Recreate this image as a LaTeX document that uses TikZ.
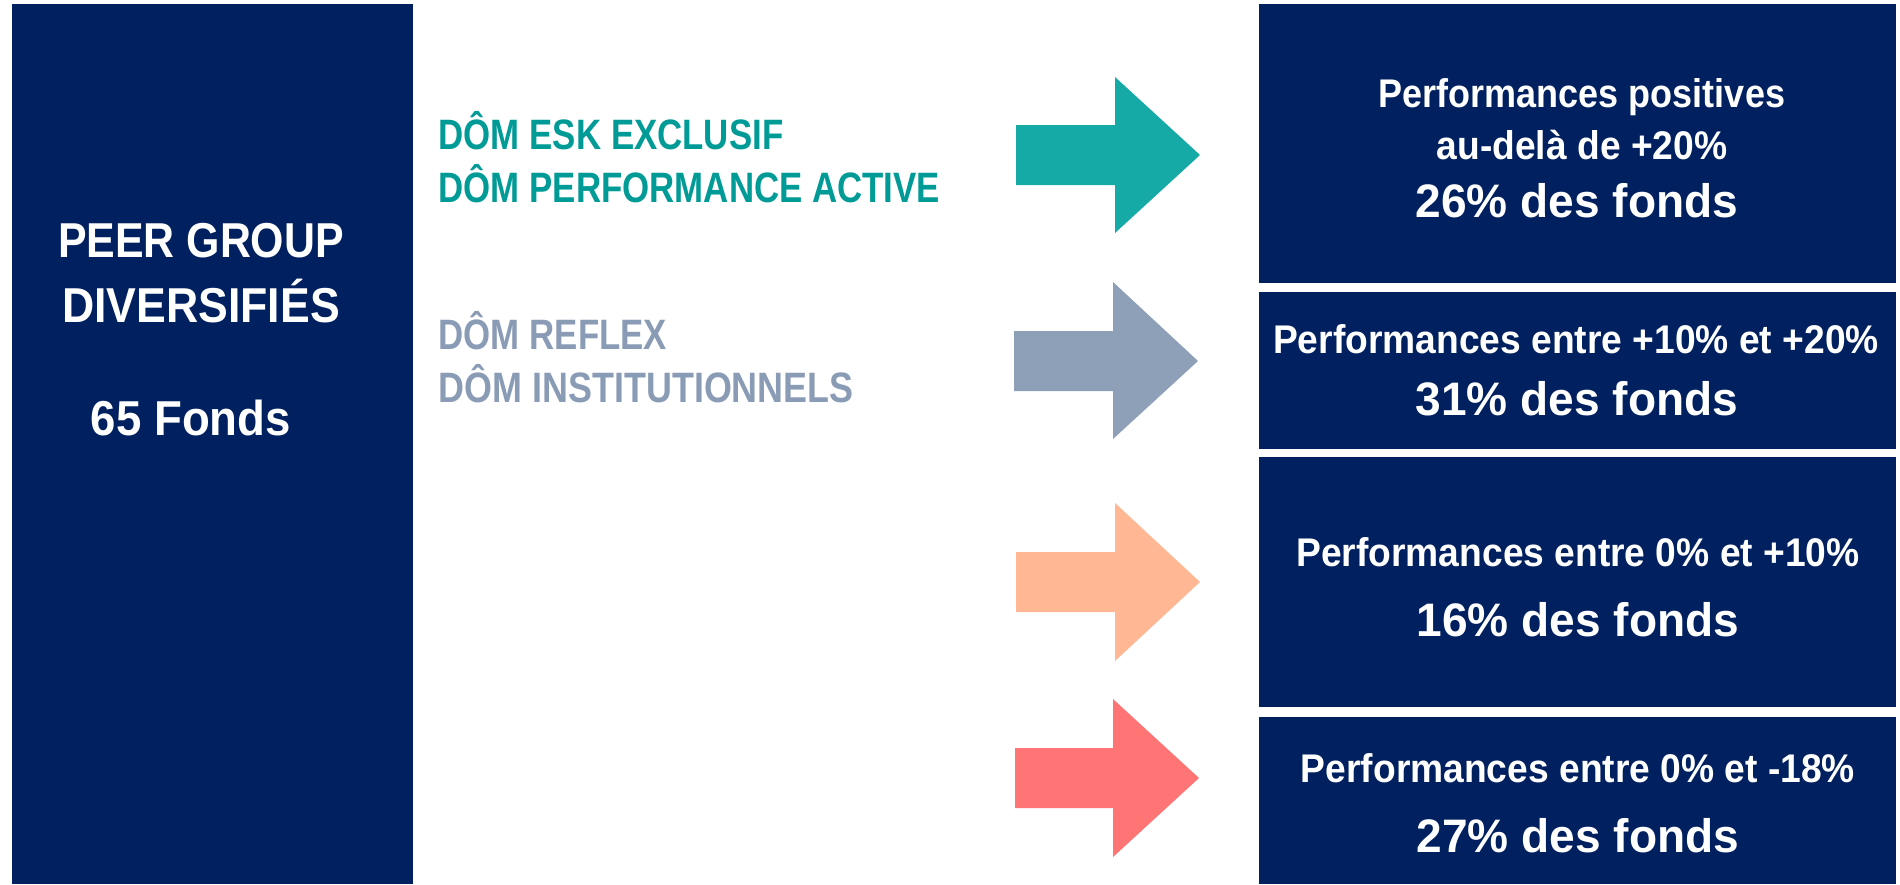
\documentclass[tikz,border=0pt]{standalone}
\usepackage{fontspec}
\newfontfamily\fteal[FakeStretch=0.82]{Liberation Sans Bold}
\newfontfamily\ftealw[FakeStretch=0.845]{Liberation Sans Bold}
\newfontfamily\fleft[FakeStretch=0.875]{Liberation Sans Bold}
\newfontfamily\fleftw[FakeStretch=0.91]{Liberation Sans Bold}
\newfontfamily\fnum[FakeStretch=0.93]{Liberation Sans Bold}
\newfontfamily\fsmall[FakeStretch=0.90]{Liberation Sans Bold}
\newfontfamily\fsmallw[FakeStretch=0.93]{Liberation Sans Bold}
\newfontfamily\fbig[FakeStretch=0.98]{Liberation Sans Bold}
\definecolor{navy}{HTML}{012060}
\definecolor{tealA}{HTML}{16AAA6}
\definecolor{tealT}{HTML}{009B96}
\definecolor{grayA}{HTML}{8EA0B8}
\definecolor{grayT}{HTML}{8A9CB5}
\definecolor{peach}{HTML}{FFB893}
\definecolor{redA}{HTML}{FF7474}
\begin{document}
\begin{tikzpicture}[x=1pt,y=-1pt,
  navybox/.style={fill=navy,draw=none,inner sep=0,anchor=north west},
  lefttxt/.style={text=white,inner sep=0,anchor=base},
  sidetxt/.style={inner sep=0,anchor=base west},
  smalltxt/.style={text=white,inner sep=0,anchor=base,font=\fsmallw\fontsize{40}{46}\selectfont},
  bigtxt/.style={text=white,inner sep=0,anchor=base,font=\fbig\fontsize{47}{54}\selectfont}]
\fill[white] (0,0) rectangle (1900,884);
\useasboundingbox (0,0) rectangle (1900,884);
% boxes
\node[navybox,minimum width=401pt,minimum height=880pt] (peer) at (12,4) {};
\node[navybox,minimum width=637pt,minimum height=279pt] (b1) at (1259,4) {};
\node[navybox,minimum width=637pt,minimum height=157pt] (b2) at (1259,292) {};
\node[navybox,minimum width=637pt,minimum height=250pt] (b3) at (1259,457) {};
\node[navybox,minimum width=637pt,minimum height=167pt] (b4) at (1259,717) {};
% left texts
\node[lefttxt,font=\fleft\fontsize{49}{55}\selectfont] (l1) at (201,257) {PEER GROUP};
\node[lefttxt,font=\fleftw\fontsize{49}{55}\selectfont] (l2) at (201,322) {DIVERSIFIÉS};
\node[lefttxt,font=\fnum\fontsize{49}{55}\selectfont] (l3) at (191,435) {65 Fonds};
% side texts
\node[sidetxt,text=tealT,font=\fteal\fontsize{42.5}{50}\selectfont] (t1) at (438.5,149) {DÔM ESK EXCLUSIF};
\node[sidetxt,text=tealT,font=\fteal\fontsize{42.5}{50}\selectfont] (t2) at (438.5,202) {DÔM PERFORMANCE ACTIVE};
\node[sidetxt,text=grayT,font=\fteal\fontsize{42.5}{50}\selectfont] (g1) at (438.5,349) {DÔM REFLEX};
\node[sidetxt,text=grayT,font=\ftealw\fontsize{42.5}{50}\selectfont] (g2) at (438.5,402) {DÔM INSTITUTIONNELS};
% arrows
\fill[tealA] (1016,125) -- (1115,125) -- (1115,77) -- (1200,155) -- (1115,233) -- (1115,185) -- (1016,185) -- cycle;
\fill[grayA] (1014,331) -- (1113,331) -- (1113,282) -- (1198,361) -- (1113,439) -- (1113,391) -- (1014,391) -- cycle;
\fill[peach] (1016,552) -- (1115,552) -- (1115,503) -- (1200,582) -- (1115,661) -- (1115,612) -- (1016,612) -- cycle;
\fill[redA] (1015,748) -- (1113,748) -- (1113,699) -- (1199,778) -- (1113,857) -- (1113,808) -- (1015,808) -- cycle;
% right texts
\node[smalltxt,font=\fsmall\fontsize{40}{46}\selectfont] (r1a) at (1582,107) {Performances positives};
\node[smalltxt] (r1b) at (1582,159) {au-delà de +20\%};
\node[bigtxt] (r1c) at (1577,217) {26\% des fonds};
\node[smalltxt] (r2a) at (1576,353) {Performances entre +10\% et +20\%};
\node[bigtxt] (r2b) at (1577,415) {31\% des fonds};
\node[smalltxt] (r3a) at (1578,566) {Performances entre 0\% et +10\%};
\node[bigtxt] (r3b) at (1578,636) {16\% des fonds};
\node[smalltxt] (r4a) at (1578,782) {Performances entre 0\% et -18\%};
\node[bigtxt] (r4b) at (1578,852) {27\% des fonds};
\end{tikzpicture}
\end{document}
